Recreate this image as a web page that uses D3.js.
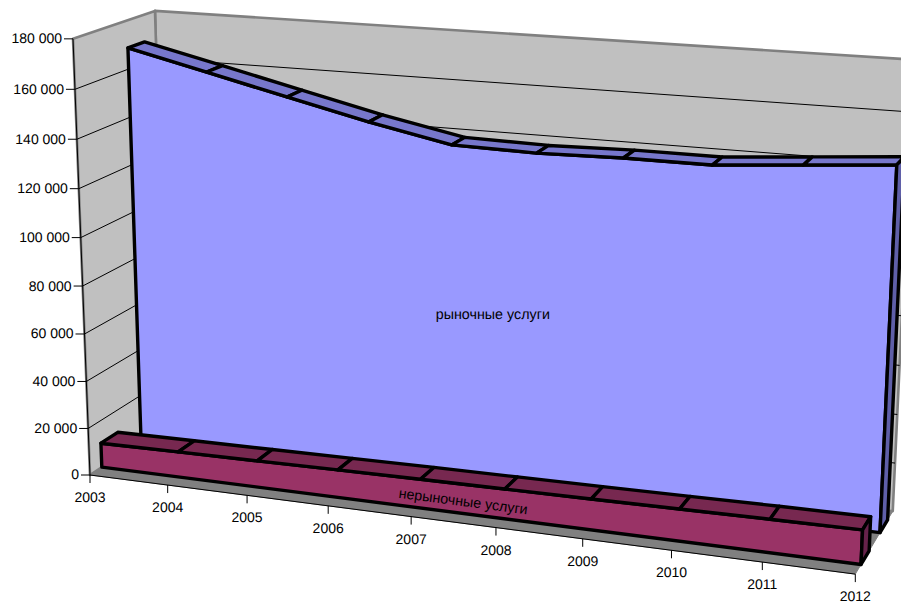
<!DOCTYPE html>
<html>
<head>
<meta charset="utf-8">
<script src="https://cdn.jsdelivr.net/npm/d3@7"></script>
<style>
  html, body { margin: 0; background: #fff; }
  text { font-family: "Liberation Sans", Arial, sans-serif; fill: #000; text-rendering: geometricPrecision; }
</style>
</head>
<body>
<svg id="chart" width="901" height="603"></svg>
<script>
const years = [2003, 2004, 2005, 2006, 2007, 2008, 2009, 2010, 2011, 2012];
const marketServices = [168700, 161100, 153300, 145700, 139100, 138500, 139300, 139300, 142100, 144900];
const nonMarketServices = [10400, 10800, 11200, 11600, 12000, 12300, 12600, 13000, 13400, 13700];
const valueTicks = [0, 20000, 40000, 60000, 80000, 100000, 120000, 140000, 160000, 180000];
const seriesNames = ["нерыночные услуги", "рыночные услуги"];

// Perspective camera: one vanishing point per chart axis, each with its axis weight.
const origin = [90, 475];
const vanishX = { at: [-7100, -456], weight: -0.0962 };
const vanishY = { at: [455, 9840], weight: -0.0445 };
const vanishZ = { at: [1454, -432], weight: 0.0603 };

const xScale = d3.scalePoint().domain(years).range([0, 1]);
const yScale = d3.scaleLinear().domain([0, 180000]).range([0, 1]);

function project(year, value, depth) {
  const a = xScale(year) * vanishX.weight;
  const b = yScale(value) * vanishY.weight;
  const c = depth * vanishZ.weight;
  const d = 1 + a + b + c;
  return [
    (origin[0] + a * vanishX.at[0] + b * vanishY.at[0] + c * vanishZ.at[0]) / d,
    (origin[1] + a * vanishX.at[1] + b * vanishY.at[1] + c * vanishZ.at[1]) / d
  ];
}

const svg = d3.select("#chart");
const outline = d3.line().curve(d3.curveLinearClosed);
const first = years[0], last = years[years.length - 1];
const maxValue = valueTicks[valueTicks.length - 1];

function face(points, fill, stroke, width, parent) {
  (parent || svg).append("path")
    .attr("d", outline(points))
    .attr("fill", fill)
    .attr("stroke", stroke)
    .attr("stroke-width", width)
    .attr("stroke-linejoin", "round");
}

// Walls and floor
const wallGrey = "#c0c0c0", edgeGrey = "#808080";
face([project(first, 0, 1), project(last, 0, 1), project(last, maxValue, 1), project(first, maxValue, 1)], wallGrey, edgeGrey, 2.6);
face([project(first, 0, 0), project(first, 0, 1), project(first, maxValue, 1), project(first, maxValue, 0)], wallGrey, edgeGrey, 2.6);
face([project(first, 0, 0), project(last, 0, 0), project(last, 0, 1), project(first, 0, 1)], edgeGrey, edgeGrey, 1);

// Gridlines run along the side wall, then across the back wall
const gridline = d3.line();
svg.append("g").selectAll("path")
  .data(valueTicks.filter(v => v > 0 && v < maxValue))
  .join("path")
  .attr("d", v => gridline([project(first, v, 0), project(first, v, 1), project(last, v, 1)]))
  .attr("fill", "none")
  .attr("stroke", "#000")
  .attr("stroke-width", 1);

// A ribbon: front face, then one top segment per year interval, then the end cap
function ribbon(values, near, far, colors, strokeWidth) {
  const g = svg.append("g");
  const top = years.map((y, i) => project(y, values[i], near));
  face([project(first, 0, near), ...top, project(last, 0, near)], colors.front, "#000", strokeWidth, g);
  d3.pairs(years.map((y, i) => i)).forEach(([i, j]) => {
    face([
      project(years[i], values[i], near),
      project(years[j], values[j], near),
      project(years[j], values[j], far),
      project(years[i], values[i], far)
    ], colors.top, "#000", strokeWidth, g);
  });
  const n = years.length - 1;
  face([
    project(last, 0, near), project(last, values[n], near),
    project(last, values[n], far), project(last, 0, far)
  ], colors.side, "#000", strokeWidth, g);
}

ribbon(marketServices, 0.645, 0.855, { front: "#9999ff", top: "#7777cc", side: "#5f5fa8" }, 3.4);
ribbon(nonMarketServices, 0.145, 0.355, { front: "#993366", top: "#772850", side: "#66224a" }, 3.4);

// Axes
svg.append("path")
  .attr("d", gridline([project(first, maxValue, 0), project(first, 0, 0), project(last, 0, 0)]))
  .attr("fill", "none").attr("stroke", "#000").attr("stroke-width", 1);

const yAxis = svg.append("g").selectAll("g").data(valueTicks).join("g")
  .attr("transform", v => `translate(${project(first, v, 0)})`);
yAxis.append("line").attr("x1", -9).attr("x2", 0).attr("stroke", "#000");
yAxis.append("text")
  .attr("x", -11).attr("dy", "0.32em").attr("text-anchor", "end")
  .attr("font-size", 14)
  .text(v => d3.format(",")(v).replace(/,/g, " "));

const xAxis = svg.append("g").selectAll("g").data(years).join("g")
  .attr("transform", y => `translate(${project(y, 0, 0)})`);
xAxis.append("line").attr("y1", 0).attr("y2", 8).attr("stroke", "#000");
xAxis.append("text")
  .attr("y", 27).attr("text-anchor", "middle")
  .attr("font-size", 14)
  .text(y => y);

// Series names
const marketLabel = project(2007, 70000, 0.645);
svg.append("text")
  .attr("transform", `translate(${marketLabel[0] + 41},${marketLabel[1]})`)
  .attr("dy", "0.32em").attr("text-anchor", "middle").attr("font-size", 14.3)
  .text(seriesNames[1]);
const nonMarketLabel = project(2007, 0, 0.145);
svg.append("text")
  .attr("transform", `translate(${nonMarketLabel[0] + 42},${nonMarketLabel[1] - 2}) rotate(7.4)`)
  .attr("text-anchor", "middle").attr("font-size", 14.3)
  .text(seriesNames[0]);
</script>
</body>
</html>
